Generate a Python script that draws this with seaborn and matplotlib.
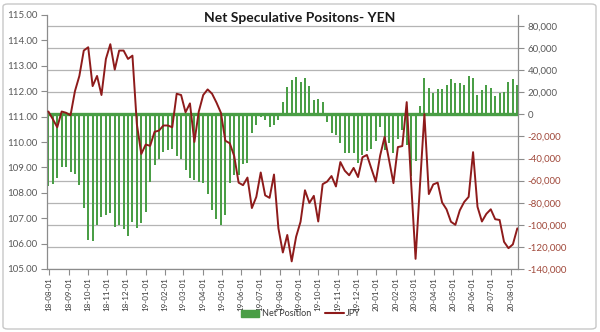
import numpy as np
import pandas as pd
import matplotlib
matplotlib.use("Agg")
import matplotlib.pyplot as plt
import matplotlib.dates as mdates
import seaborn as sns
from matplotlib.patches import Patch, FancyBboxPatch
from matplotlib.lines import Line2D

# ---- data -------------------------------------------------------------
week_dates = pd.date_range("2018-07-31", "2020-08-11", freq="7D")

net_position_k = [
    -65, -63, -58, -48, -48, -52, -54, -64, -85, -114,
    -115, -100, -93, -91, -89, -102, -100, -104, -110, -97,
    -103, -98, -88, -61, -46, -40, -34, -32, -31, -38,
    -40, -50, -58, -59, -61, -62, -72, -87, -95, -100,
    -91, -62, -55, -55, -45, -44, -17, -10, -2, -5,
    -11, -10, -5, 11, 25, 31, 34, 29, 33, 26,
    13, 14, 11, -7, -17, -19, -26, -35, -35, -35,
    -44, -37, -33, -31, -24, -11, -32, -26, -35, -22,
    -14, -28, -56, -42, 8, 33, 24, 19, 23, 23,
    27, 32, 28, 28, 27, 35, 33, 18, 22, 27,
    24, 17, 19, 20, 29, 32, 27,
]

jpy = [
    111.20, 110.90, 110.58, 111.20, 111.15, 111.05, 112.00, 112.60, 113.60, 113.73,
    112.20, 112.60, 111.85, 113.27, 113.85, 112.85, 113.60, 113.60, 113.27, 113.40,
    110.70, 109.53, 109.90, 109.85, 110.40, 110.45, 110.65, 110.65, 110.58, 111.90,
    111.85, 111.17, 111.52, 110.00, 111.20, 111.85, 112.07, 111.90, 111.55, 111.15,
    110.05, 109.95, 109.45, 108.40, 108.30, 108.60, 107.40, 107.84, 108.80, 107.90,
    107.80, 108.72, 106.60, 105.65, 106.34, 105.30, 106.27, 106.86, 108.10, 107.60,
    107.88, 106.87, 108.34, 108.44, 108.66, 108.25, 109.21, 108.87, 108.69, 108.98,
    108.62, 109.40, 109.49, 108.96, 108.44, 109.47, 110.20, 109.30, 108.38, 109.80,
    109.84, 111.57, 108.40, 105.40, 108.30, 111.10, 107.95, 108.33, 108.40, 107.62,
    107.35, 106.86, 106.74, 107.31, 107.64, 107.84, 109.60, 107.45, 106.87, 107.17,
    107.35, 106.96, 106.93, 106.07, 105.82, 105.97, 106.60,
]

month_labels = [
    "18-08-01", "18-09-01", "18-10-01", "18-11-01", "18-12-01",
    "19-01-01", "19-02-01", "19-03-01", "19-04-01", "19-05-01",
    "19-06-01", "19-07-01", "19-08-01", "19-09-01", "19-10-01",
    "19-11-01", "19-12-01", "20-01-01", "20-02-01", "20-03-01",
    "20-04-01", "20-05-01", "20-06-01", "20-07-01", "20-08-01",
]

net_ticks = list(range(-140000, 80001, 20000))
jpy_ticks = list(range(105, 116))

# ---- styling -----------------------------------------------------------
GREEN = "#4a9e46"
RED = "#8e1b1b"
AXIS = "#8c8c8c"
GRID = "#b4b4b4"
TXT = "#595959"

sns.set_theme(style="white")
plt.rcParams["font.family"] = ["Lato", "DejaVu Sans"]

df = pd.DataFrame({
    "x": mdates.date2num(week_dates),
    "net": np.array(net_position_k) * 1000,
    "jpy": jpy,
})

fig = plt.figure(figsize=(6.0, 3.32), dpi=100)
fig.patch.set_facecolor("white")

L, R, T, B = 47, 518, 15, 269
ax = fig.add_axes([L / 600, 1 - B / 332, (R - L) / 600, (B - T) / 332])
ax2 = ax.twinx()

# bars (Net Position) on the right-hand scale
sns.barplot(data=df, x="x", y="net", native_scale=True, width=0.45,
            color=GREEN, saturation=1, ax=ax, zorder=2, linewidth=0)
ax.axhline(0, color=GREEN, lw=2.4, zorder=3)

# line (JPY) on the left-hand scale
sns.lineplot(data=df, x="x", y="jpy", ax=ax2, color=RED, lw=1.4, zorder=4)

# --- right axis (bars)
ax.set_ylim(-140000, 90000)
ax.set_yticks(net_ticks)
ax.set_yticklabels([f"{v:,}" for v in net_ticks])
ax.yaxis.set_ticks_position("right")
ax.yaxis.set_label_position("right")
ax.tick_params(axis="y", right=True, left=False, labelright=True,
               labelleft=False, length=4, width=0.8, color=AXIS,
               labelsize=7, pad=3)
for lab, v in zip(ax.get_yticklabels(), net_ticks):
    lab.set_color("#a0483a" if v < 0 else TXT)
ax.grid(axis="y", color=GRID, lw=0.9)
ax.grid(axis="x", visible=False)
ax.set_axisbelow(True)

month_pos = mdates.date2num(pd.to_datetime(["20" + m for m in month_labels]))
ax.set_xticks(month_pos)
ax.set_xticklabels(month_labels, rotation=90)
ax.set_xlim(df["x"].iloc[0] - 2.2, df["x"].iloc[-1] + 1.1)
ax.set_xlabel("")
ax.set_ylabel("")
ax.tick_params(axis="x", bottom=True, length=4, width=0.8, color=AXIS,
               labelsize=5.8, labelcolor="#3a3a3a", pad=2)

for s in ["top", "left"]:
    ax.spines[s].set_visible(False)
for s in ["right", "bottom"]:
    ax.spines[s].set_visible(True)
    ax.spines[s].set_color(AXIS)
    ax.spines[s].set_linewidth(0.9)

# --- left axis (line)
ax2.set_ylim(105, 115)
ax2.set_yticks(jpy_ticks)
ax2.set_yticklabels([f"{v:.2f}" for v in jpy_ticks])
ax2.yaxis.set_ticks_position("left")
ax2.yaxis.set_label_position("left")
ax2.tick_params(axis="y", left=True, right=False, labelleft=True,
                labelright=False, length=4, width=0.8, color=AXIS,
                labelsize=7, labelcolor=TXT, pad=3)
ax2.set_ylabel("")
ax2.set_xlabel("")
for s in ["top", "right", "bottom"]:
    ax2.spines[s].set_visible(False)
ax2.spines["left"].set_visible(True)
ax2.spines["left"].set_color(AXIS)
ax2.spines["left"].set_linewidth(0.9)
ax2.set_xlim(ax.get_xlim())

# title
fig.text(0.5, 1 - 18 / 332, "Net Speculative Positons- YEN", ha="center",
         va="center", fontsize=10, fontweight="bold", color="#1a1a1a")

# legend
handles = [Patch(facecolor=GREEN, edgecolor=GREEN),
           Line2D([], [], color=RED, lw=1.5)]
fig.legend(handles, ["Net Position", "JPY"], loc="center",
           bbox_to_anchor=(301 / 600, 1 - 314 / 332), ncol=2, frameon=False,
           fontsize=6.5, handlelength=2.0, handleheight=0.8,
           columnspacing=1.6, handletextpad=0.3, labelcolor="#3a3a3a",
           borderpad=0.1)

# chart-area border
fig.patches.append(FancyBboxPatch((3 / 600, 3 / 332), 593 / 600, 325 / 332,
                                  boxstyle="round,pad=0,rounding_size=0.008",
                                  transform=fig.transFigure, fill=False,
                                  edgecolor="#c8c8c8", lw=1.0))

fig.savefig("out.png", dpi=100, facecolor="white")
